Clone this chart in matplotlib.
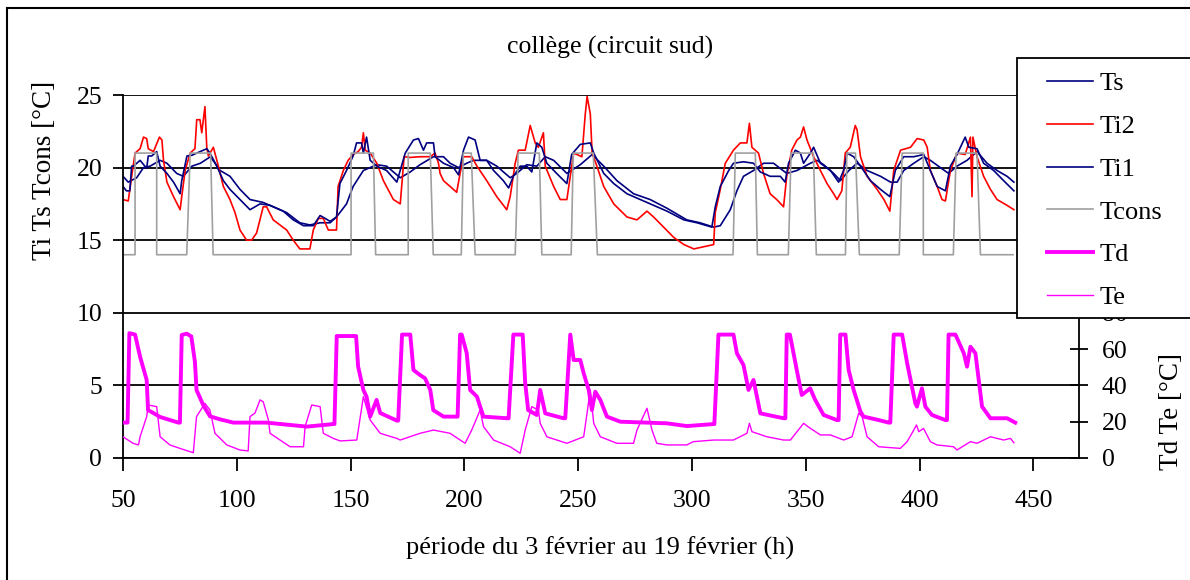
import matplotlib
matplotlib.use('Agg')
import matplotlib.pyplot as plt
from matplotlib.patches import Rectangle

plt.rcParams['font.family'] = ['Liberation Serif', 'DejaVu Serif']

# --- data (hours, degC) ---
hours_tcons = [50, 55.3, 55.3, 64.8, 64.8, 78, 79.5, 88.5, 89.6, 150.2, 150.2, 160, 161,
               175.3, 175.3, 185, 186.3, 198.6, 199.5, 203, 204.7, 222.3, 223.6, 232.9, 234,
               246.9, 247.8, 256.6, 258.4, 318, 319, 327.8, 328.7, 342.3, 343.5, 353.3, 354.6,
               367.4, 368, 371.8, 373.5, 391, 392.3, 401.6, 401.6, 414.8, 416, 425.2, 426.7, 441]
tcons = [14, 14, 21, 21, 14, 14, 21, 21, 14, 14, 21, 21, 14,
         14, 21, 21, 14, 14, 21, 21, 14, 14, 21, 21, 14,
         14, 21, 21, 14, 14, 21, 21, 14, 14, 21, 21, 14,
         14, 21, 21, 14, 14, 21, 21, 14, 14, 21, 21, 14, 14]

hours_ti2 = [50, 52.3, 53.8, 55.3, 57.5, 59, 60.4, 61.1, 63.4, 66, 67.1, 67.8, 69.3, 72.2, 75.1,
             75.8, 77.3, 79.5, 81.6, 82.4, 83.8, 84.6, 86, 86.8, 87.5, 89.7, 91.9, 94.1, 97,
             99.2, 101.4, 104.3, 106.5, 108.7, 111.6, 113.1, 116, 121.9, 124.8, 127.7, 132.1,
             133.6, 135.8, 138, 140.2, 143.8, 144.5, 146.8, 148.9, 151.1, 153.3, 154.8, 155.6,
             156.4, 158.6, 161.5, 164.4, 168.8, 171.8, 173.5, 176.2, 180.5, 185, 187.1, 188.6,
             189.3, 190.8, 196.6, 198.1, 199.6, 203.2, 205.5, 209.8, 214.2, 218.6, 220.1, 222.3,
             223.7, 226.7, 228.9, 231.1, 232.5, 234.7, 235.5, 239.2, 242.1, 245, 246.5, 248,
             251.6, 253.1, 253.9, 255.3, 256.1, 258.2, 261.2, 265.6, 271.4, 275.8, 280.2, 283.1,
             287.5, 291.9, 296.4, 300.8, 306.6, 309.5, 310.2, 312.4, 314.6, 318.2, 321.2, 324.1,
             325.2, 326.3, 329.2, 331.4, 334.3, 337.2, 340.2, 341.6, 343.8, 346.1, 347.6, 349,
             350.5, 353.4, 356.4, 359.3, 362.2, 363.7, 365.8, 367.3, 369.5, 371.7, 372.5, 374,
             376.9, 381.3, 384.3, 386.9, 388.6, 391.6, 396, 398.9, 401.8, 403.3, 404.7, 407.7,
             409.8, 411.3, 413.5, 416.4, 420, 422.3, 423, 423.4, 425.2, 428.1, 431.1, 434,
             438.4, 441.4]
ti2 = [17.8, 17.7, 19.4, 21.0, 21.3, 22.1, 22.0, 21.3, 21.1, 22.1, 21.9, 20.5, 19.0, 18.0, 17.1,
       18.0, 19.8, 21.0, 21.3, 23.3, 23.3, 22.4, 24.2, 21.4, 20.8, 21.4, 20.1, 18.7, 17.8,
       16.9, 15.7, 15.0, 15.0, 15.5, 17.3, 17.3, 16.4, 15.7, 15.0, 14.4, 14.4,
       15.7, 16.5, 16.5, 15.7, 15.7, 18.7, 19.8, 20.5, 20.9, 21.1, 21.4, 22.4,
       21.2, 21.0, 20.3, 19.1, 17.8, 17.5, 20.75, 20.7, 20.75, 20.75, 21.0, 20.3,
       19.6, 19.1, 18.3, 19.6, 20.75, 20.75, 20.1, 19.1, 18.0, 17.1, 18.0, 20.3,
       21.2, 21.2, 22.9, 21.7, 21.4, 22.4, 20.1, 18.7, 17.8, 17.8, 19.4, 21.0,
       20.75, 23.7, 24.9, 23.7, 21.0, 20.1, 18.7, 17.5, 16.6, 16.4, 17.0, 16.6,
       15.9, 15.2, 14.7, 14.4, 14.6, 14.7, 16.9, 18.5, 20.3, 21.2, 21.7, 21.7,
       23.05, 21.4, 21.0, 19.6, 18.2, 17.8, 17.3, 19.4, 21.2, 21.9, 22.1, 22.8,
       21.9, 20.75, 19.8, 18.9, 18.2, 17.8, 18.4, 21.0, 21.4, 22.9, 22.6, 20.75,
       19.4, 18.5, 17.8, 17.0, 19.8, 21.2, 21.4, 22.0, 21.9, 21.4, 19.8, 18.7,
       17.8, 17.7, 19.8, 21.0, 20.9, 22.1, 18.0, 22.1, 20.75, 19.4, 18.5, 17.8,
       17.4, 17.1]

hours_ti1 = [50, 51.5, 53, 53.8, 54.6, 57.5, 60.4, 61.1, 62.6, 64.8, 66.3, 69.3, 72.2, 75.1,
             75.8, 78.1, 80.3, 82.4, 86.8, 88.2, 91.2, 94.1, 97, 101.4, 105.8, 110.2, 114.6,
             120.4, 124.8, 129.3, 133.6, 136.6, 141, 143.8, 145.3, 148.2, 151.1, 152.6, 154.8,
             155.6, 157, 158.6, 161.5, 165.8, 170.3, 174, 177.6, 179.8, 182, 183.4, 186.4,
             187.1, 190.8, 195.2, 197.4, 199.6, 201.8, 204.7, 206.9, 209.8, 212.8, 217.1,
             219.4, 221.5, 224.5, 227.4, 229.6, 231.8, 234, 236.2, 240.5, 245, 247.1, 250.9,
             255.3, 256.8, 261.2, 265.6, 271.4, 277.3, 283.1, 289, 296.4, 302.2, 306.6, 308.7,
             310.2, 312.4, 316.1, 318.2, 322.6, 327, 330, 334.3, 338.8, 340.9, 342.4, 345.4,
             347.6, 349, 352, 353.4, 356.4, 360.8, 364.4, 366.6, 368.1, 371, 374, 378.4,
             382.8, 386.9, 389.3, 393, 397.4, 401.8, 404.7, 407.7, 411.3, 413.5, 416.4, 420,
             421.6, 425.2, 428.1, 432.5, 436.9, 441.4]
ti1 = [18.7, 18.4, 18.4, 20.1, 20.1, 20.5, 19.95, 20.8, 20.8, 21.1, 20.1, 19.6, 19.0, 18.2,
       19.1, 20.8, 20.85, 21.0, 21.3, 21.0, 20.1, 19.1, 18.5, 17.8, 17.1, 17.5, 17.4,
       17.0, 16.4, 16.0, 16.0, 16.7, 16.3, 16.6, 18.9, 19.8, 20.8, 21.7, 21.7,
       21.0, 22.1, 20.5, 20.1, 19.8, 19.0, 21.0, 21.9, 22.0, 21.2, 21.7, 21.7,
       20.75, 20.3, 20.0, 19.5, 21.2, 22.1, 21.9, 20.5, 20.5, 19.8, 19.1,
       18.6, 19.4, 20.1, 20.1, 19.7, 21.7, 21.4, 20.3, 19.6, 18.9, 20.9, 21.6,
       21.7, 21.0, 19.6, 18.9, 18.2, 17.8, 17.4, 17.0, 16.4, 16.2, 16.0, 15.9,
       17.3, 18.7, 19.8, 20.3, 20.4, 20.3, 19.7, 19.4, 19.4, 19.0, 20.3, 21.2,
       21.0, 20.3, 21.0, 21.4, 20.3, 19.8, 19.0, 19.8, 21.0, 20.75, 20.1, 19.1,
       18.5, 18.0, 19.8, 20.75, 20.75, 20.9, 19.8, 18.7, 18.4, 20.1, 20.9, 22.1,
       21.4, 21.3, 20.3, 19.8, 19.1, 18.4]

hours_ts = [50, 52.3, 56, 59, 61.9, 66.3, 69.3, 73.6, 76.5, 80.3, 84, 88.4, 92.7, 97, 101.4,
            105.8, 111.6, 116, 121.9, 127.7, 132.1, 136.6, 141, 143.8, 148.2, 151.1, 155.6,
            161.5, 165.8, 171.8, 176.2, 180.5, 186.4, 190.8, 193.7, 197.4, 201, 204, 209.8,
            214.2, 220.1, 223, 227.4, 231.8, 235.5, 239.2, 245, 250.9, 256.1, 261.2, 267,
            274.3, 281.6, 289, 297.7, 303.5, 309.5, 312.4, 316.8, 319.7, 322.6, 327, 331.4,
            335.8, 341.6, 346.1, 352, 354.9, 357.8, 362.2, 365.2, 368.9, 372.5, 376.9, 382.8,
            387.2, 390.1, 393, 397.4, 401.8, 404.7, 409.1, 412.7, 416.4, 420.8, 425.2, 429.6,
            434, 438.4, 441.4]
ts = [19.4, 19.0, 19.3, 20.0, 20.1, 20.5, 20.3, 19.6, 19.4, 20.1, 20.3, 20.75, 19.8, 19.4, 18.5,
      17.8, 17.6, 17.3, 16.9, 16.2, 16.05, 16.2, 16.2, 16.6, 17.5, 18.7, 19.8,
      20.2, 20.1, 19.3, 19.7, 20.2, 20.75, 20.75, 20.3, 20.0, 20.3, 20.5, 20.5,
      20.1, 19.3, 19.6, 20.2, 20.1, 20.75, 20.5, 19.6, 20.2, 20.9, 20.1, 19.1,
      18.2, 17.8, 17.2, 16.4, 16.2, 15.9, 16.0, 17.1, 18.4, 19.4, 19.8, 20.3,
      20.3, 19.6, 19.8, 20.3, 20.5, 20.2, 19.6, 19.1, 19.8, 20.3, 19.8, 19.4,
      19.0, 19.0, 19.8, 20.3, 20.75, 20.5, 20.0, 19.6, 20.1, 20.5, 21.1, 20.3,
      19.8, 19.4, 19.0]

hours_td = [50, 52, 52.8, 55.3, 57.5, 60.4, 61, 63.3, 66.3, 74.3, 75, 75.8, 78, 80, 81.6, 82.3,
            85.3, 88.2, 92.6, 98.5, 113, 123.4, 130.8, 142.4, 142.9, 143.9, 152.4, 153.3,
            155.6, 157, 158.6, 161.4, 163, 170.3, 170.9, 172.6, 176.2, 177.6, 180.5, 182.7,
            185, 186.3, 190.8, 196.6, 197, 198.1, 198.8, 201, 202.5, 205.5, 206.9, 208.4,
            218.6, 219.4, 221.5, 225.6, 226.7, 228, 231.8, 233.3, 235.5, 243.5, 244.3, 246.5,
            248, 250.9, 252.4, 254.6, 256, 257.5, 259.7, 262.6, 268.5, 289, 297.7, 309.5,
            309.8, 311.6, 318.2, 319.7, 322.6, 324.8, 327, 330, 340.2, 341, 341.6, 343, 346,
            348.2, 351.9, 354.1, 357.8, 363.6, 364.4, 365.1, 367.4, 368.8, 371, 374, 375.4,
            382, 386.4, 387.1, 388.6, 392.3, 394.5, 398.1, 398.8, 401, 402.5, 405.4, 411.3,
            412, 412.7, 415.7, 419.4, 420.8, 422.3, 424.5, 427.4, 431.1, 438.4, 442]
td = [19.5, 19.5, 68.8, 68, 55.8, 43, 26.4, 24.8, 22.6, 19.5, 19.5, 67.8, 68.5, 67, 53, 37.5,
      29, 23, 21.3, 19.5, 19.5, 18.2, 17.3, 18.7, 18.7, 67.2, 67.2, 50.3,
      37.5, 33.8, 22.8, 32, 24.8, 20.6, 20.6, 68, 68, 48.5, 45.7, 43.9,
      37.5, 26.4, 22.8, 22.8, 22.8, 68, 68, 57.8, 37.5, 33.8, 28.3, 22.8,
      21.9, 21.9, 68, 68, 41.3, 26.4, 23.7, 37.5, 24.6, 21.9, 21.9, 68,
      54, 54, 46.6, 37.5, 26.4, 36.5, 32, 22.8, 20, 19.1, 17.6, 18.7,
      18.7, 68, 68, 57.7, 51.2, 37.5, 43, 24.6, 21.9, 21.9, 68, 68, 48.5,
      34.7, 38.4, 32, 23.7, 20.9, 20.9, 68, 68, 48.5, 37.5, 25.5, 22.8,
      20.9, 19.5, 19.5, 68, 68, 52.2, 30.1, 28.3, 38.4, 28.3, 23.7, 20.9,
      20.9, 68, 68, 57.7, 50.3, 61.3, 57.7, 28.3, 21.9, 21.9, 19.5]

hours_te = [50, 54.4, 56.8, 57.5, 60.4, 61.1, 64.8, 66.3, 70.6, 75, 80.9, 82.3, 86, 88.2, 90.4,
            95.6, 101.4, 105, 105.8, 108, 110.2, 111.6, 113.9, 114.6, 123.4, 129.3, 130, 132.9,
            136.6, 138, 142.4, 145.4, 152.7, 155.6, 158.6, 163, 170.3, 171.8, 180.5, 186.4,
            193.7, 200.3, 203.2, 206.9, 208.4, 212.8, 220.1, 224.5, 226.7, 229.6, 232.5, 233.3,
            236.2, 245, 252.4, 255.3, 256.8, 259.7, 267, 274.3, 275.8, 280.2, 282.4, 284.5,
            289, 297.7, 300.6, 309.5, 318.2, 324.1, 325.2, 326.3, 332.9, 340.2, 343.2, 349,
            352, 356.4, 360.8, 366.6, 370.3, 373.2, 374.7, 376.9, 382, 391.5, 394.5, 397.4,
            398.6, 399.6, 401.7, 404.7, 407.6, 414.9, 416.4, 422.3, 425.2, 431.1, 436.9,
            439.9, 441.4]
te = [11.7, 8.1, 7.2, 11.7, 22.8, 29.2, 28.3, 11.7, 7.2, 5.3, 2.9, 22.8, 30.1, 26.4, 13.6,
      7.2, 4.4, 3.9, 22.8, 24.8, 32, 31, 20.9, 13.6, 6.2, 6.2, 17.3, 29.2,
      28.3, 13.6, 10.8, 9.4, 9.9, 33.8, 20.9, 13.6, 10.8, 9.9, 13.6, 15.4,
      13.6, 8.1, 15.4, 26.4, 17.3, 9.9, 6.2, 2.6, 15.4, 28.3, 26.4, 19.1,
      11.7, 8.1, 11.7, 37.5, 19.1, 11.7, 8.1, 8.1, 15.4, 27.4, 15.4, 8.1,
      7.2, 7.2, 9, 9.9, 9.9, 13.6, 19.1, 14.5, 11.7, 9.9, 9.9, 19.1,
      16.3, 12.7, 12.7, 9.9, 11.7, 24.6, 22.8, 11.7, 6.2, 5.3, 9, 15.4,
      18.2, 14.5, 16.3, 9, 7.2, 6.2, 4.4, 9, 8.1, 11.7, 9.9,
      10.8, 8.4]

left_ticks = [0, 5, 10, 15, 20, 25]
right_ticks = [0, 20, 40, 60, 80]
x_ticks = [50, 100, 150, 200, 250, 300, 350, 400, 450]

NAVY = '#000080'
RED = '#FF0000'
GREY = '#A0A0A0'
MAGENTA = '#FF00FF'

W, H = 1190, 580
fig = plt.figure(figsize=(W / 100, H / 100), dpi=100)
ax = fig.add_axes([123 / W, 1 - 458 / H, (1079 - 123) / W, (458 - 95) / H])
ax2 = ax.twinx()

# temperatures on the left axis
l_ts, = ax.plot(hours_ts, ts, color=NAVY, lw=1.2, label='Ts')
l_ti2, = ax.plot(hours_ti2, ti2, color=RED, lw=1.2, label='Ti2')
l_ti1, = ax.plot(hours_ti1, ti1, color=NAVY, lw=1.2, label='Ti1')
l_tc, = ax.plot(hours_tcons, tcons, color=GREY, lw=1.2, label='Tcons')

# Td / Te on the right axis (scaled so 80 sits on the 10 line)
l_td, = ax2.plot(hours_td, td, color=MAGENTA, lw=2.8, label='Td')
l_te, = ax2.plot(hours_te, te, color=MAGENTA, lw=1.0, label='Te')

ax.set_xlim(50, 470)
ax.set_ylim(0, 25)
ax2.set_ylim(0, 200)
ax.set_xticks(x_ticks)
ax.set_yticks(left_ticks)
ax2.set_yticks(right_ticks)

for a in (ax, ax2):
    a.spines['top'].set_visible(False)
    for s in a.spines.values():
        s.set_linewidth(1.3)
ax.spines['right'].set_visible(False)
ax2.spines['left'].set_visible(False)
ax2.spines['bottom'].set_visible(False)

ax.yaxis.grid(True, color='black', lw=1.3)
ax.set_axisbelow(True)
ax.tick_params(axis='y', direction='out', length=7, width=1.3, labelsize=18.5, pad=8)
ax.tick_params(axis='x', direction='out', length=9, width=1.3, labelsize=18.5, pad=14)
ax2.tick_params(axis='y', direction='inout', length=13, width=1.3, labelsize=18.5, pad=10)

fig.text(610 / W, 1 - 47 / H, 'collège (circuit sud)', ha='center', va='center', fontsize=18.5)
fig.text(600 / W, 1 - 548 / H, 'période du 3 février au 19 février (h)',
         ha='center', va='center', fontsize=19)
fig.text(45 / W, 1 - 170 / H, 'Ti Ts Tcons [°C]', rotation=90,
         ha='center', va='center', fontsize=19.5)
fig.text(1172 / W, 1 - 412 / H, 'Td Te [°C]', rotation=90,
         ha='center', va='center', fontsize=19.5)

# outer frame of the chart (only left/top edges visible)
fig.patches.append(Rectangle((7 / W, -0.2), 2, 1.2 - 8 / H, transform=fig.transFigure,
                             fill=False, edgecolor='black', lw=1.5, zorder=1))

# legend box reaching past the right edge
fig.patches.append(Rectangle((1017 / W, 1 - 318 / H), 0.2, (318 - 58) / H,
                             transform=fig.transFigure, facecolor='white',
                             edgecolor='black', lw=1.3, zorder=5))
leg = fig.legend(handles=[l_ts, l_ti2, l_ti1, l_tc, l_td, l_te], loc='upper left',
                 bbox_to_anchor=(1047 / W, 1 - 72 / H), frameon=False, fontsize=19,
                 handlelength=1.75, handletextpad=0.25, labelspacing=0.73, borderpad=0,
                 borderaxespad=0)
leg.set_zorder(6)

fig.savefig('out.png', dpi=100)
